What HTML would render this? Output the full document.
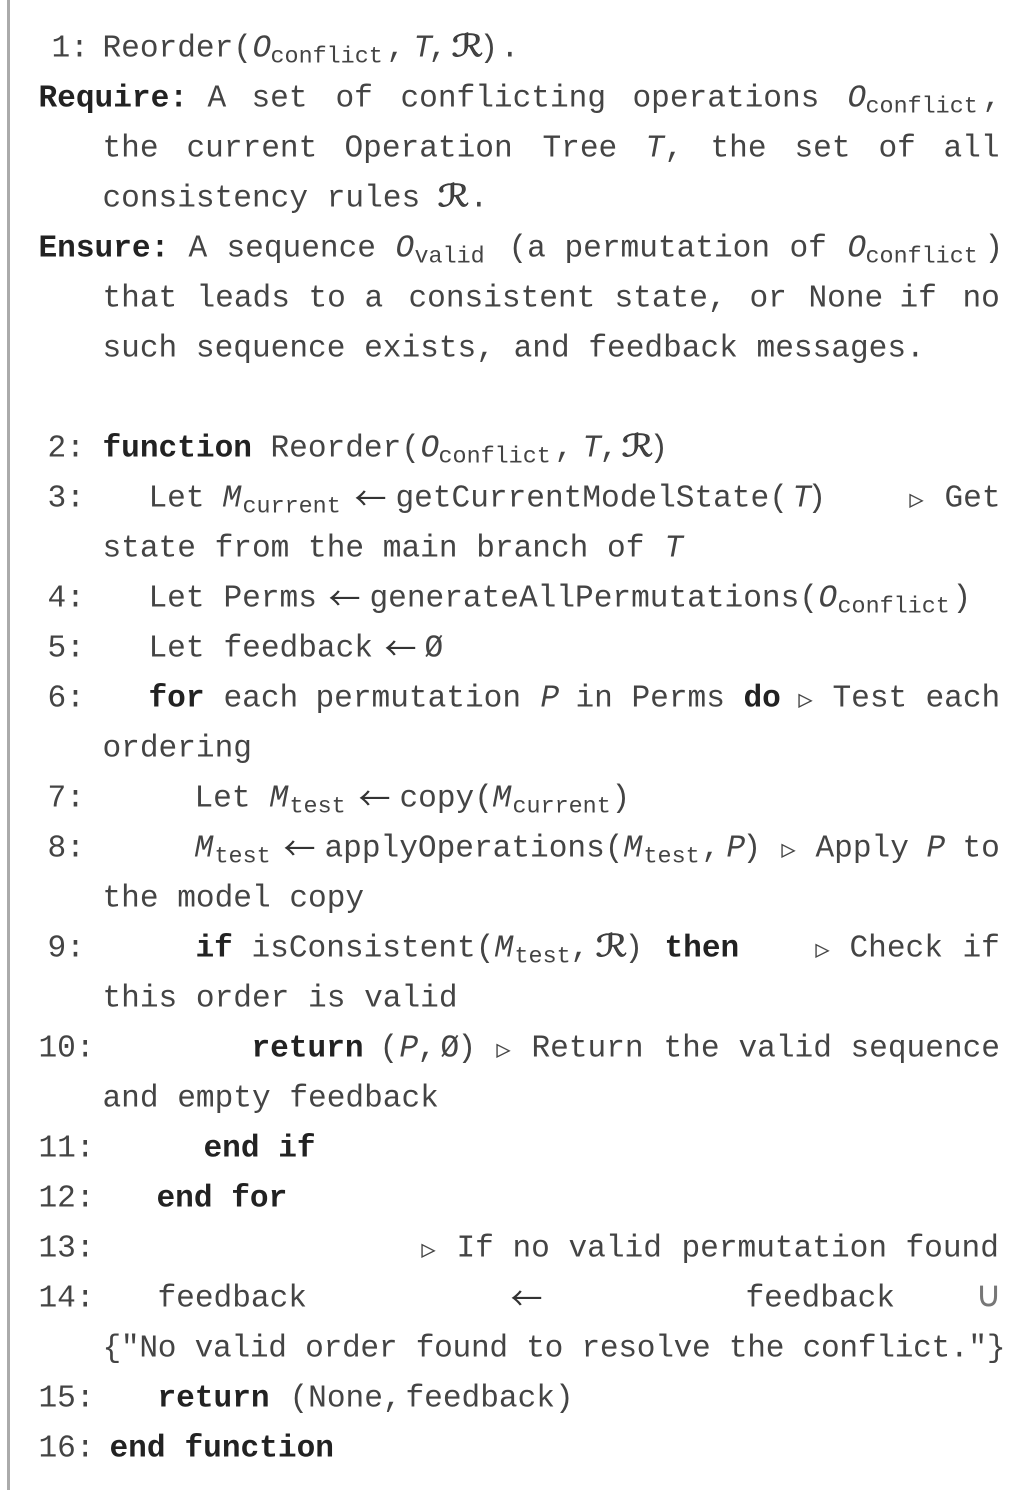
<!DOCTYPE html>
<html><head><meta charset="utf-8"><style>
html,body{margin:0;padding:0;background:#fff}
svg{display:block}
text{font-family:"Liberation Mono","DejaVu Sans Mono",monospace;font-size:31.15px;fill:#444;white-space:pre}
.b{font-weight:bold;fill:#222}
.i{font-style:italic}
.s{font-size:23.4px}
.r{font-family:"DejaVu Sans",sans-serif;font-size:31px;font-style:italic;stroke:#333;stroke-width:.6px}
.t{font-size:18px;font-family:"DejaVu Sans",sans-serif;stroke:#444;stroke-width:.35px}
.a{font-family:"Noto Sans CJK JP",sans-serif;font-size:32px;fill:#333;transform:translateY(3.5px)}
.u{font-family:"DejaVu Sans",sans-serif;font-size:36px;fill:#777}
</style></head><body>
<svg width="1011" height="1497" viewBox="0 0 1011 1497" xmlns="http://www.w3.org/2000/svg">
<rect x="7" y="0" width="3" height="1490" fill="#ababab"/>
<g transform="translate(-0.5,-0.7)">
<text x="52" y="57">1:</text><text x="103" y="57">Reorder(</text><text class="i" x="253" y="57">O</text><text class="s" x="271" y="63">conflict</text><text x="387" y="57">,</text><text class="i" x="414" y="57">T</text><text x="429" y="57">,</text><text class="r" x="452" y="57" textLength="32" lengthAdjust="spacingAndGlyphs">ℛ</text><text x="480" y="57">)</text><text x="501" y="57">.</text>

<text class="b" x="39" y="107">Require:</text><text x="208" y="107">A</text><text x="252" y="107">set</text><text x="336" y="107">of</text><text x="401" y="107">conflicting</text><text x="633" y="107">operations</text><text class="i" x="848" y="107">O</text><text class="s" x="866" y="113">conflict</text><text x="983" y="107">,</text>

<text x="103" y="157">the</text><text x="187" y="157">current</text><text x="345" y="157">Operation</text><text x="543" y="157">Tree</text><text class="i" x="646" y="157">T</text><text x="665" y="157">,</text><text x="711" y="157">the</text><text x="795" y="157">set</text><text x="879" y="157">of</text><text x="944" y="157">all</text>

<text x="103" y="207">consistency rules</text><text class="r" x="438" y="207" textLength="32" lengthAdjust="spacingAndGlyphs">ℛ</text><text x="470" y="207">.</text>

<text class="b" x="39" y="257">Ensure:</text><text x="189" y="257">A</text><text x="227" y="257">sequence</text><text class="i" x="396" y="257">O</text><text class="s" x="415" y="263">valid</text><text x="509" y="257">(a</text><text x="565" y="257">permutation</text><text x="790" y="257">of</text><text class="i" x="848" y="257">O</text><text class="s" x="866" y="263">conflict</text><text x="985" y="257">)</text>

<text x="103" y="307">that</text><text x="197" y="307">leads</text><text x="309" y="307">to</text><text x="365" y="307">a</text><text x="409" y="307">consistent</text><text x="615" y="307">state,</text><text x="750" y="307">or</text><text x="809" y="307">None</text><text x="900" y="307">if</text><text x="963" y="307">no</text>

<text x="103" y="357">such sequence exists, and feedback messages.</text>

<text x="48" y="457">2:</text><text class="b" x="103" y="457">function</text><text x="271" y="457">Reorder(</text><text class="i" x="421" y="457">O</text><text class="s" x="439" y="463">conflict</text><text x="555" y="457">,</text><text class="i" x="583" y="457">T</text><text x="600" y="457">,</text><text class="r" x="622" y="457" textLength="32" lengthAdjust="spacingAndGlyphs">ℛ</text><text x="650" y="457">)</text>

<text x="48" y="507">3:</text><text x="149" y="507">Let</text><text class="i" x="223" y="507">M</text><text class="s" x="243" y="513">current</text><text class="a" x="355" y="507">←</text><text x="396" y="507">getCurrentModelState(</text><text class="i" x="793" y="507">T</text><text x="808" y="507">)</text><text class="t" x="910" y="506">▷</text><text x="945" y="507">Get</text>

<text x="103" y="557">state from the main branch of</text><text class="i" x="665" y="557">T</text>

<text x="48" y="607">4:</text><text x="149" y="607">Let</text><text x="224" y="607">Perms</text><text class="a" x="329" y="607">←</text><text x="370" y="607">generateAllPermutations(</text><text class="i" x="819" y="607">O</text><text class="s" x="838" y="613">conflict</text><text x="953" y="607">)</text>

<text x="48" y="657">5:</text><text x="149" y="657">Let</text><text x="224" y="657">feedback</text><text class="a" x="385" y="657">←</text><text x="425" y="657">Ø</text>

<text x="48" y="707">6:</text><text class="b" x="149" y="707">for</text><text x="224" y="707">each</text><text x="316" y="707">permutation</text><text class="i" x="541" y="707">P</text><text x="576" y="707">in</text><text x="632" y="707">Perms</text><text class="b" x="744" y="707">do</text><text class="t" x="799" y="706">▷</text><text x="833" y="707">Test</text><text x="926" y="707">each</text>

<text x="103" y="757">ordering</text>

<text x="48" y="807">7:</text><text x="195" y="807">Let</text><text class="i" x="270" y="807">M</text><text class="s" x="290" y="813">test</text><text class="a" x="359" y="807">←</text><text x="400" y="807">copy(</text><text class="i" x="493" y="807">M</text><text class="s" x="513" y="813">current</text><text x="612" y="807">)</text>

<text x="48" y="857">8:</text><text class="i" x="195" y="857">M</text><text class="s" x="215" y="863">test</text><text class="a" x="284" y="857">←</text><text x="325" y="857">applyOperations(</text><text class="i" x="624" y="857">M</text><text class="s" x="644" y="863">test</text><text x="702" y="857">,</text><text class="i" x="727" y="857">P</text><text x="743" y="857">)</text><text class="t" x="782" y="856">▷</text><text x="816" y="857">Apply</text><text class="i" x="927" y="857">P</text><text x="963" y="857">to</text>

<text x="103" y="907">the model copy</text>

<text x="48" y="957">9:</text><text class="b" x="196" y="957">if</text><text x="252" y="957">isConsistent(</text><text class="i" x="495" y="957">M</text><text class="s" x="515" y="963">test</text><text x="571" y="957">,</text><text class="r" x="596" y="957" textLength="32" lengthAdjust="spacingAndGlyphs">ℛ</text><text x="625" y="957">)</text><text class="b" x="665" y="957">then</text><text class="t" x="816" y="956">▷</text><text x="850" y="957">Check</text><text x="963" y="957">if</text>

<text x="103" y="1007">this order is valid</text>

<text x="39" y="1057">10:</text><text class="b" x="252" y="1057">return</text><text x="380" y="1057">(</text><text class="i" x="400" y="1057">P</text><text x="418" y="1057">,</text><text x="441" y="1057">Ø</text><text x="458" y="1057">)</text><text class="t" x="497" y="1056">▷</text><text x="532" y="1057">Return</text><text x="664" y="1057">the</text><text x="739" y="1057">valid</text><text x="851" y="1057">sequence</text>

<text x="103" y="1107">and empty feedback</text>

<text x="39" y="1157">11:</text><text class="b" x="204" y="1157">end if</text>

<text x="39" y="1207">12:</text><text class="b" x="157" y="1207">end for</text>

<text x="39" y="1257">13:</text><text class="t" x="422" y="1256">▷</text><text x="457" y="1257">If</text><text x="513" y="1257">no</text><text x="569" y="1257">valid</text><text x="682" y="1257">permutation</text><text x="906" y="1257">found</text>

<text x="39" y="1307">14:</text><text x="158" y="1307">feedback</text><text class="a" x="511" y="1307">←</text><text x="746" y="1307">feedback</text><text class="u" x="976" y="1307">∪</text>

<text x="103" y="1357" textLength="903" lengthAdjust="spacing">{"No valid order found to resolve the conflict."}</text>

<text x="39" y="1407">15:</text><text class="b" x="158" y="1407">return</text><text x="290" y="1407">(None,</text><text x="406" y="1407">feedback)</text>

<text x="39" y="1457">16:</text><text class="b" x="110" y="1457">end</text><text class="b" x="185" y="1457">function</text>
</g>
</svg>
</body></html>
